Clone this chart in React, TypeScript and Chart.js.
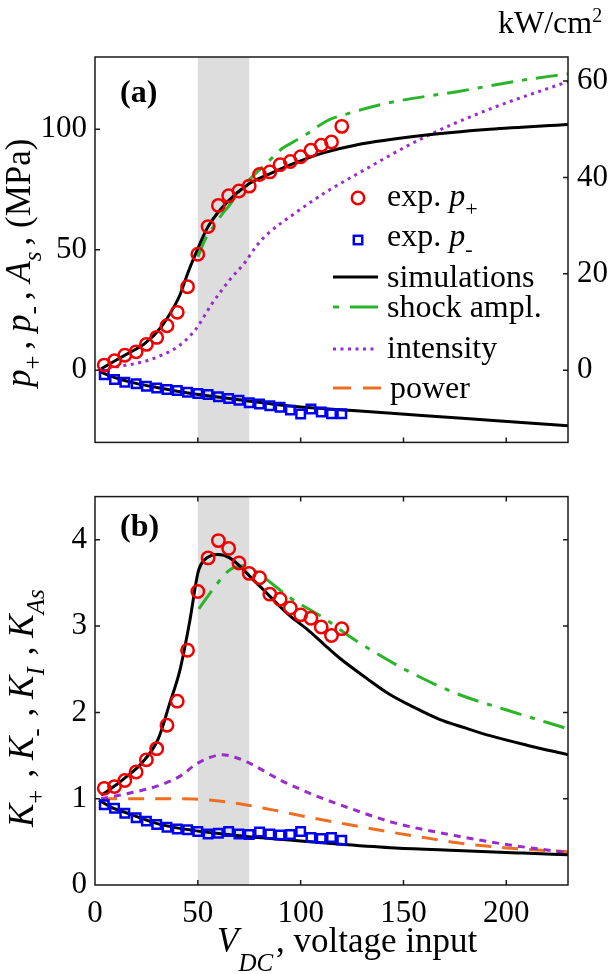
import React, { useEffect, useRef } from 'react';
import { Chart, registerables } from 'chart.js';

Chart.register(...registerables);

const SERIF = '"Liberation Serif", "Times New Roman", Times, serif';

// ---------------- data ----------------
const bandRange = [50, 75];
const xTickValues = [0, 50, 100, 150, 200];
const pTickValues = [0, 50, 100];
const intensityTickValues = [0, 20, 40, 60];
const kTickValues = [0, 1, 2, 3, 4];

// experiments
const expX = [4.5, 9.5, 14.5, 20, 25, 30, 35, 40, 45, 50, 55, 60, 65, 70, 75, 80, 85, 90, 95, 100, 105, 110, 115, 120];
const expPplus = [2.1, 3.9, 6.2, 7.6, 10.7, 13.6, 18.4, 24, 34.6, 48.1, 59.6, 68.4, 72.4, 74.4, 76.4, 81.2, 82.3, 85.3, 86.6, 88.6, 91.3, 93.4, 94.7, 101.2];
const expPminus = [-1.9, -3.9, -5.0, -5.7, -6.7, -7.4, -8.0, -8.5, -9.2, -9.7, -10.1, -11.0, -11.8, -12.5, -13.5, -14.1, -14.8, -15.4, -16.6, -18.2, -16.1, -17.4, -18.1, -18.1];
const expKplus = [1.12, 1.14, 1.21, 1.31, 1.45, 1.58, 1.85, 2.13, 2.72, 3.40, 3.79, 3.99, 3.90, 3.73, 3.61, 3.56, 3.37, 3.31, 3.21, 3.13, 3.09, 2.99, 2.89, 2.97];
const expKminus = [0.93, 0.89, 0.83, 0.78, 0.74, 0.70, 0.67, 0.65, 0.64, 0.62, 0.59, 0.60, 0.62, 0.59, 0.585, 0.615, 0.59, 0.58, 0.585, 0.62, 0.55, 0.54, 0.55, 0.52];

// panel (a) simulations
const simPplusX = [3, 10, 16, 24, 32, 39, 41.3, 45, 48.5, 55, 65, 74.4, 86, 97, 111, 127, 159, 192, 230];
const simPplus = [0.6, 4, 6.9, 10.9, 17.7, 27.2, 31.2, 40, 47.4, 59.6, 70.4, 77.1, 81.9, 85.9, 90.2, 93.5, 97.4, 100, 102];
const simPminusX = [2, 10, 20, 30, 46, 70, 96, 127, 159, 192, 230];
const simPminus = [-0.5, -3.2, -5.5, -7.2, -9.6, -12.3, -15, -16.9, -18.8, -20.8, -23.1];
const shockAX = [50, 54, 58, 62, 65, 70, 75, 81, 86, 91, 97, 103, 108, 114, 121, 143, 176, 208, 230];
const shockA = [47, 55, 60, 65, 68, 74, 79, 84, 88, 92, 95, 98, 101, 104, 106, 111, 115.6, 120.4, 123];
const intensityX = [3, 12, 24, 33, 40, 48.5, 56.6, 62, 66, 73, 78.5, 84, 97, 111, 127, 159, 192, 230];
const intensity = [0.2, 0.8, 1.8, 3.2, 4.8, 8.2, 13.6, 16.8, 19, 22.4, 25.8, 28.3, 32.5, 36.6, 40.6, 48.1, 54.2, 59.9];

// panel (b) simulations
const simKplusX = [3, 8, 14, 23, 30.7, 36.4, 41.3, 46.1, 50.2, 53.4, 59.9, 65.5, 78.5, 94.7, 102.8, 110.8, 118.9, 131.8, 143.2, 155, 167.5, 180, 192, 210, 230];
const simKplus = [1.04, 1.12, 1.23, 1.42, 1.69, 2.11, 2.49, 3.06, 3.63, 3.77, 3.83, 3.79, 3.50, 3.12, 2.97, 2.80, 2.63, 2.40, 2.21, 2.06, 1.92, 1.82, 1.73, 1.62, 1.51];
const simKminusX = [2, 8, 16, 24, 32, 48.5, 64.7, 81, 97, 121, 146, 176, 208, 230];
const simKminus = [0.98, 0.9, 0.83, 0.76, 0.70, 0.63, 0.585, 0.546, 0.516, 0.47, 0.43, 0.40, 0.37, 0.35];
const shockBX = [50.5, 55, 59, 65.5, 72, 81.7, 94.7, 110.8, 127, 151.3, 175.6, 199.8, 230];
const shockB = [3.2, 3.35, 3.48, 3.65, 3.70, 3.57, 3.33, 3.10, 2.83, 2.49, 2.22, 2.03, 1.81];
const kIntensityX = [3, 16, 32, 42, 48.5, 55, 62, 68, 74.4, 90.6, 106.8, 126.2, 145.6, 175.6, 199.8, 230];
const kIntensity = [1.0, 1.06, 1.16, 1.27, 1.39, 1.47, 1.51, 1.48, 1.42, 1.21, 1.04, 0.87, 0.72, 0.57, 0.47, 0.375];
const kPowerX = [3, 30, 48, 58, 66, 73, 90.6, 105, 121, 142, 160, 176, 200, 230];
const kPower = [1.0, 1.0, 0.995, 0.98, 0.955, 0.93, 0.85, 0.78, 0.71, 0.62, 0.55, 0.49, 0.43, 0.386];

// ---------------- styles ----------------
const RED = '#f00000';
const BLUE = '#0000f0';
const BLACK = '#000000';
const GREEN = '#2ab42a';
const PURPLE = '#9a2bcc';
const ORANGE = '#ee6e22';
const BAND = '#dddddd';
const DASH_SHOCK = [22, 9, 5, 9];
const DASH_DOT_A = [3, 4.5];
const DASH_DOT_B = [7, 6];
const DASH_POWER = [16, 11];

type Seg = { t: string; it?: boolean; b?: boolean; sub?: boolean; sup?: boolean; dy?: number; scale?: number; gap?: number };

function drawRich(ctx: CanvasRenderingContext2D, segs: Seg[], x: number, y: number, size: number, rot = 0) {
  ctx.save();
  ctx.translate(x, y);
  if (rot) ctx.rotate(rot);
  ctx.fillStyle = '#000';
  ctx.textBaseline = 'alphabetic';
  ctx.textAlign = 'left';
  let cx = 0;
  for (const s of segs) {
    if (s.gap) { cx += s.gap; continue; }
    const small = s.sub || s.sup;
    const fs = Math.round(size * (s.scale ?? (small ? 0.7 : 1)));
    ctx.font = `${s.it ? 'italic ' : ''}${s.b ? 'bold ' : ''}${fs}px ${SERIF}`;
    let dy = 0;
    if (s.sub) dy = size * (s.dy ?? 0.3);
    if (s.sup) dy = -size * (s.dy ?? 0.35);
    ctx.fillText(s.t, cx, dy);
    cx += ctx.measureText(s.t).width;
  }
  ctx.restore();
}

const pts = (xs: number[], ys: number[]) => xs.map((x, i) => ({ x, y: ys[i] }));

const lineDs = (label: string, xs: number[], ys: number[], color: string, dash: number[], yAxisID = 'y', width = 3) => ({
  label,
  data: pts(xs, ys),
  borderColor: color,
  backgroundColor: color,
  borderWidth: width,
  borderDash: dash,
  borderCapStyle: 'butt',
  pointRadius: 0,
  fill: false,
  cubicInterpolationMode: 'monotone',
  yAxisID,
});

const markerDs = (label: string, xs: number[], ys: number[], color: string, style: string, radius: number) => ({
  label,
  data: pts(xs, ys),
  showLine: false,
  pointStyle: style,
  pointRadius: radius,
  pointBorderWidth: 2.5,
  pointBorderColor: color,
  pointBackgroundColor: 'rgba(0,0,0,0)',
  borderColor: color,
  backgroundColor: 'rgba(0,0,0,0)',
  yAxisID: 'y',
});

function framePlugin(opts: {
  top: boolean;
  left: string;
  right: string | null;
  leftTicks: number[];
  rightTicks: number[];
  draw: (ctx: CanvasRenderingContext2D, chart: any) => void;
}) {
  return {
    id: 'frameDeco',
    beforeDatasetsDraw(chart: any) {
      const { ctx, chartArea } = chart;
      const xs = chart.scales.x;
      const x0 = xs.getPixelForValue(bandRange[0]);
      const x1 = xs.getPixelForValue(bandRange[1]);
      ctx.save();
      ctx.fillStyle = BAND;
      ctx.fillRect(x0, chartArea.top, x1 - x0, chartArea.bottom - chartArea.top);
      ctx.restore();
    },
    afterDatasetsDraw(chart: any) {
      const { ctx, chartArea: a } = chart;
      const xs = chart.scales.x;
      const tl = 5;
      ctx.save();
      ctx.strokeStyle = '#1a1a1a';
      ctx.lineWidth = 1.5;
      ctx.strokeRect(a.left, a.top, a.right - a.left, a.bottom - a.top);
      ctx.beginPath();
      for (const v of xTickValues) {
        const px = xs.getPixelForValue(v);
        if (px <= a.left + 1 || px >= a.right - 1) continue;
        ctx.moveTo(px, a.bottom);
        ctx.lineTo(px, a.bottom - tl);
        if (opts.top) {
          ctx.moveTo(px, a.top);
          ctx.lineTo(px, a.top + tl);
        }
      }
      const ls = chart.scales[opts.left];
      for (const v of opts.leftTicks) {
        const py = ls.getPixelForValue(v);
        if (py <= a.top + 1 || py >= a.bottom - 1) continue;
        ctx.moveTo(a.left, py);
        ctx.lineTo(a.left + tl, py);
      }
      const rs = chart.scales[opts.right || opts.left];
      for (const v of opts.rightTicks) {
        const py = rs.getPixelForValue(v);
        if (py <= a.top + 1 || py >= a.bottom - 1) continue;
        ctx.moveTo(a.right, py);
        ctx.lineTo(a.right - tl, py);
      }
      ctx.stroke();
      ctx.restore();
    },
    afterDraw(chart: any) {
      opts.draw(chart.ctx, chart);
    },
  };
}

const tickFont = { family: SERIF, size: 31 };

function drawLegendA(ctx: CanvasRenderingContext2D) {
  const textX = 387;
  const sx0 = 333;
  const sx1 = 378;
  const size = 32;
  ctx.save();
  ctx.strokeStyle = RED;
  ctx.lineWidth = 2.5;
  ctx.beginPath();
  ctx.arc(358, 198, 6.2, 0, Math.PI * 2);
  ctx.stroke();
  ctx.strokeStyle = BLUE;
  ctx.strokeRect(358 - 4.2, 240 - 4.2, 8.4, 8.4);
  const line = (y: number, color: string, dash: number[], off = 0) => {
    ctx.strokeStyle = color;
    ctx.lineWidth = 3;
    ctx.setLineDash(dash);
    ctx.lineDashOffset = off;
    ctx.beginPath();
    ctx.moveTo(sx0, y);
    ctx.lineTo(sx1, y);
    ctx.stroke();
  };
  line(277, BLACK, []);
  line(307, GREEN, [6, 11, 30, 9], 0);
  line(349, PURPLE, DASH_DOT_A);
  ctx.strokeStyle = ORANGE;
  ctx.lineWidth = 3;
  ctx.setLineDash([18, 12]);
  ctx.lineDashOffset = 0;
  ctx.beginPath();
  ctx.moveTo(sx0, 388);
  ctx.lineTo(383, 388);
  ctx.stroke();
  ctx.restore();

  drawRich(ctx, [{ t: 'exp. ' }, { t: 'p', it: true }, { t: '+', sub: true }], textX, 206, size);
  drawRich(ctx, [{ t: 'exp. ' }, { t: 'p', it: true }, { t: '-', sub: true }], textX, 246, size);
  drawRich(ctx, [{ t: 'simulations' }], textX, 287, size);
  drawRich(ctx, [{ t: 'shock ampl.' }], textX, 317, size);
  drawRich(ctx, [{ t: 'intensity' }], textX, 358, size);
  drawRich(ctx, [{ t: 'power' }], textX + 3, 398, size);
}

function PanelA() {
  const ref = useRef<HTMLCanvasElement>(null);
  useEffect(() => {
    const chart = new Chart(ref.current as HTMLCanvasElement, {
      type: 'line',
      data: {
        datasets: [
          markerDs('exp. p+', expX, expPplus, RED, 'circle', 6.2),
          markerDs('exp. p-', expX, expPminus, BLUE, 'rect', 6),
          lineDs('simulations', simPplusX, simPplus, BLACK, []),
          lineDs('simulations p-', simPminusX, simPminus, BLACK, []),
          lineDs('shock ampl.', shockAX, shockA, GREEN, DASH_SHOCK),
          lineDs('intensity', intensityX, intensity, PURPLE, DASH_DOT_A, 'y2'),
        ] as any,
      },
      options: {
        animation: false,
        responsive: false,
        maintainAspectRatio: false,
        events: [],
        layout: { padding: { top: 57, left: 0, right: 0, bottom: 0 } },
        plugins: { legend: { display: false }, tooltip: { enabled: false }, title: { display: false } },
        scales: {
          x: {
            type: 'linear',
            min: 0,
            max: 230,
            grid: { display: false, drawTicks: false },
            border: { display: false },
            ticks: { display: false },
            afterFit: (s: any) => { s.height = 18; },
          },
          y: {
            type: 'linear',
            position: 'left',
            min: -30,
            max: 130,
            grid: { display: false, drawTicks: false },
            border: { display: false },
            ticks: { font: tickFont, color: '#000', padding: 8 },
            afterBuildTicks: (s: any) => { s.ticks = pTickValues.map((v) => ({ value: v })); },
            afterFit: (s: any) => { s.width = 95; },
          },
          y2: {
            type: 'linear',
            position: 'right',
            min: -15,
            max: 65,
            grid: { display: false, drawTicks: false },
            border: { display: false },
            ticks: { font: tickFont, color: '#000', padding: 9 },
            afterBuildTicks: (s: any) => { s.ticks = intensityTickValues.map((v) => ({ value: v })); },
            afterFit: (s: any) => { s.width = 41; },
          },
        } as any,
      },
      plugins: [
        framePlugin({
          top: false,
          left: 'y',
          right: 'y2',
          leftTicks: pTickValues,
          rightTicks: intensityTickValues,
          draw: (ctx) => {
            drawRich(ctx, [{ t: 'kW/cm' }, { t: '2', sup: true, scale: 0.62, dy: 0.34 }], 498, 33, 32);
            drawRich(ctx, [{ t: '(a)', b: true }], 120, 102, 32);
            drawRich(
              ctx,
              [
                { t: 'p', it: true },
                { t: '+', sub: true },
                { t: '', gap: 6 },
                { t: ', ' },
                { t: 'p', it: true },
                { t: '-', sub: true },
                { t: '', gap: 6 },
                { t: ', ' },
                { t: 'A', it: true },
                { t: 's', it: true, sub: true },
                { t: '', gap: 6 },
                { t: ', (MPa)' },
              ],
              30,
              387,
              35,
              -Math.PI / 2,
            );
            drawLegendA(ctx);
          },
        }) as any,
      ],
    });
    return () => chart.destroy();
  }, []);
  return <canvas ref={ref} width={609} height={470} style={{ display: 'block', width: 609, height: 470 }} />;
}

function PanelB() {
  const ref = useRef<HTMLCanvasElement>(null);
  useEffect(() => {
    const chart = new Chart(ref.current as HTMLCanvasElement, {
      type: 'line',
      data: {
        datasets: [
          markerDs('exp. K+', expX, expKplus, RED, 'circle', 6.2),
          markerDs('exp. K-', expX, expKminus, BLUE, 'rect', 6),
          lineDs('simulations', simKplusX, simKplus, BLACK, []),
          lineDs('simulations K-', simKminusX, simKminus, BLACK, []),
          lineDs('shock ampl.', shockBX, shockB, GREEN, DASH_SHOCK),
          lineDs('intensity', kIntensityX, kIntensity, PURPLE, DASH_DOT_B),
          lineDs('power', kPowerX, kPower, ORANGE, DASH_POWER),
        ] as any,
      },
      options: {
        animation: false,
        responsive: false,
        maintainAspectRatio: false,
        events: [],
        layout: { padding: { top: 21, left: 0, right: 41, bottom: 0 } },
        plugins: { legend: { display: false }, tooltip: { enabled: false }, title: { display: false } },
        scales: {
          x: {
            type: 'linear',
            min: 0,
            max: 230,
            grid: { display: false, drawTicks: false },
            border: { display: false },
            ticks: { font: tickFont, color: '#000', padding: 10, autoSkip: false, maxRotation: 0 },
            afterBuildTicks: (s: any) => { s.ticks = xTickValues.map((v) => ({ value: v })); },
            afterFit: (s: any) => { s.height = 89; },
          },
          y: {
            type: 'linear',
            position: 'left',
            min: 0,
            max: 4.5,
            grid: { display: false, drawTicks: false },
            border: { display: false },
            ticks: { font: tickFont, color: '#000', padding: 8 },
            afterBuildTicks: (s: any) => { s.ticks = kTickValues.map((v) => ({ value: v })); },
            afterFit: (s: any) => { s.width = 95; },
          },
        } as any,
      },
      plugins: [
        framePlugin({
          top: true,
          left: 'y',
          right: null,
          leftTicks: kTickValues,
          rightTicks: kTickValues,
          draw: (ctx) => {
            drawRich(ctx, [{ t: '(b)', b: true }], 120, 66, 32);
            drawRich(
              ctx,
              [
                { t: 'K', it: true },
                { t: '+', sub: true },
                { t: '', gap: 12 },
                { t: ', ' },
                { t: 'K', it: true },
                { t: '-', sub: true },
                { t: '', gap: 12 },
                { t: ', ' },
                { t: 'K', it: true },
                { t: 'I', it: true, sub: true },
                { t: '', gap: 12 },
                { t: ', ' },
                { t: 'K', it: true },
                { t: 'As', it: true, sub: true },
              ],
              33,
              357,
              35,
              -Math.PI / 2,
            );
            drawRich(
              ctx,
              [{ t: 'V', it: true }, { t: 'DC', it: true, sub: true, dy: 0.55 }, { t: '', gap: 3 }, { t: ', voltage input' }],
              217,
              482,
              35,
            );
          },
        }) as any,
      ],
    });
    return () => chart.destroy();
  }, []);
  return <canvas ref={ref} width={609} height={504} style={{ display: 'block', width: 609, height: 504 }} />;
}

export default function App() {
  return (
    <div style={{ position: 'absolute', left: 0, top: 0, width: 609, height: 974, background: '#fff' }}>
      <PanelA />
      <PanelB />
    </div>
  );
}
